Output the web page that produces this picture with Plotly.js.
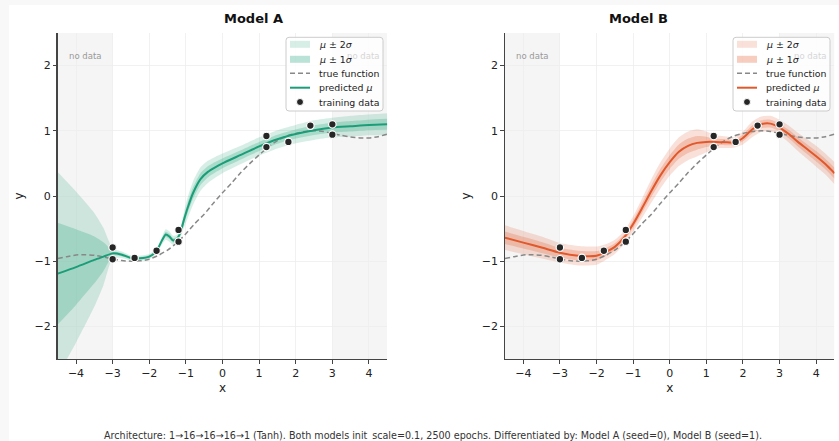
<!DOCTYPE html>
<html>
<head>
<meta charset="utf-8">
<script src="https://cdn.plot.ly/plotly-3.0.1.min.js"></script>
<style>
  html, body { margin: 0; padding: 0; background: #f8f8f8; }
  #chart { position: absolute; left: 9px; top: 5px; width: 830px; height: 436px; background: #ffffff; }
</style>
</head>
<body>
<div id="chart"></div>
<script>
// ---------- data ----------
const trainX = [-3, -3, -2.4, -1.8, -1.2, -1.2, 1.2, 1.2, 1.8, 2.4, 3.0, 3.0];
const trainY = [-0.79, -0.97, -0.95, -0.84, -0.52, -0.70, 0.92, 0.75, 0.83, 1.08, 1.10, 0.94];

const trueX = [-4.5,-4.25,-4.0,-3.75,-3.5,-3.25,-3.0,-2.75,-2.5,-2.25,-2.0,-1.75,-1.5,-1.25,-1.0,-0.75,-0.5,-0.25,0,0.25,0.5,0.75,1.0,1.25,1.5,1.75,2.0,2.25,2.5,2.75,3.0,3.25,3.5,3.75,4.0,4.25,4.5];
const trueY = [-0.96,-0.93,-0.905,-0.90,-0.91,-0.935,-0.965,-0.99,-1.0,-0.995,-0.97,-0.91,-0.83,-0.72,-0.58,-0.42,-0.28,-0.11,0.05,0.20,0.36,0.50,0.63,0.75,0.85,0.92,0.96,0.99,1.0,0.99,0.96,0.93,0.905,0.89,0.89,0.91,0.95];

const xA = [-4.5,-4.0,-3.5,-3.25,-3.0,-2.75,-2.5,-2.25,-2.0,-1.8,-1.65,-1.55,-1.45,-1.35,-1.25,-1.15,-1.05,-0.95,-0.8,-0.6,-0.4,-0.2,0,0.5,1.0,1.5,2.0,2.5,3.0,3.5,4.0,4.5];
const meanA = [-1.19,-1.09,-0.98,-0.93,-0.88,-0.90,-0.95,-0.955,-0.93,-0.84,-0.68,-0.59,-0.62,-0.68,-0.66,-0.56,-0.36,-0.18,0.05,0.26,0.37,0.44,0.50,0.63,0.76,0.87,0.95,1.01,1.05,1.07,1.09,1.10];
const sigmaA = [0.78,0.58,0.36,0.22,0.04,0.025,0.02,0.02,0.02,0.02,0.03,0.04,0.04,0.035,0.03,0.04,0.06,0.08,0.09,0.09,0.085,0.08,0.075,0.07,0.07,0.07,0.07,0.075,0.075,0.08,0.08,0.085];

const xB = [-4.5,-4.0,-3.5,-3.0,-2.5,-2.0,-1.75,-1.5,-1.25,-1.0,-0.75,-0.5,-0.25,0,0.25,0.5,0.75,1.0,1.25,1.5,1.75,2.0,2.25,2.5,2.75,3.0,3.25,3.5,3.75,4.0,4.25,4.5];
const meanB = [-0.64,-0.715,-0.79,-0.87,-0.915,-0.915,-0.86,-0.78,-0.64,-0.43,-0.18,0.08,0.32,0.52,0.68,0.77,0.815,0.83,0.83,0.825,0.82,0.89,1.02,1.10,1.11,1.05,0.95,0.83,0.72,0.61,0.49,0.35];
const sigmaB = [0.095,0.09,0.085,0.075,0.075,0.07,0.06,0.055,0.05,0.06,0.075,0.09,0.10,0.105,0.11,0.11,0.105,0.08,0.05,0.045,0.04,0.05,0.06,0.06,0.06,0.06,0.065,0.07,0.075,0.08,0.08,0.085];

const noDataX = [-3.75, 3.83];
const tickVals = [-4,-3,-2,-1,0,1,2,3,4];
const yTickVals = [-2,-1,0,1,2];
const modelTitles = ["Model A", "Model B"];
const legendLabels = ["<i>μ</i> ± 2<i>σ</i>", "<i>μ</i> ± 1<i>σ</i>", "true function", "predicted <i>μ</i>", "training data"];
const caption = "Architecture: 1→16→16→16→1 (Tanh). Both models init_scale=0.1, 2500 epochs. Differentiated by: Model A (seed=0), Model B (seed=1).";

// ---------- styles ----------
const FONT = "DejaVu Sans, sans-serif";
const W = 830, H = 436, ML = 40, MR = 0, MT = 28, MB = 82;
const PW = W - ML - MR, PH = H - MT - MB;
const px = dx => (dx - ML) / PW;          // div px -> paper x
const py = dy => 1 - (dy - MT) / PH;      // div px -> paper y
const models = [
  { x: xA, m: meanA, s: sigmaA, color: "#1b9e77", rgb: "27,158,119", xa: "x", ya: "y", dom: [0.0110, 0.4282], legendLeft: 277 },
  { x: xB, m: meanB, s: sigmaB, color: "#e0582b", rgb: "224,88,43", xa: "x2", ya: "y2", dom: [0.5772, 0.9943], legendLeft: 724 }
];
const alpha2 = 0.18, alpha1 = 0.24;
const trueDash = "5px,3px";

function modelTraces(md) {
  const lo2 = md.m.map((v, i) => v - 2 * md.s[i]), hi2 = md.m.map((v, i) => v + 2 * md.s[i]);
  const lo1 = md.m.map((v, i) => v - md.s[i]), hi1 = md.m.map((v, i) => v + md.s[i]);
  const c = { xaxis: md.xa, yaxis: md.ya, hoverinfo: "skip", showlegend: false };
  const ln = { width: 0, shape: "spline", smoothing: 0.6 };
  return [
    Object.assign({ x: md.x, y: lo2, mode: "lines", line: ln }, c),
    Object.assign({ x: md.x, y: hi2, mode: "lines", fill: "tonexty", fillcolor: `rgba(${md.rgb},${alpha2})`, line: ln }, c),
    Object.assign({ x: md.x, y: lo1, mode: "lines", line: ln }, c),
    Object.assign({ x: md.x, y: hi1, mode: "lines", fill: "tonexty", fillcolor: `rgba(${md.rgb},${alpha1})`, line: ln }, c),
    Object.assign({ x: trueX, y: trueY, mode: "lines", line: { color: "#888888", width: 1.5, dash: trueDash, shape: "spline", smoothing: 0.6 } }, c),
    Object.assign({ x: md.x, y: md.m, mode: "lines", line: { color: md.color, width: 2, shape: "spline", smoothing: 0.6 } }, c),
    Object.assign({ x: trainX, y: trainY, mode: "markers", marker: { color: "#262626", size: 7.5, line: { color: "#ffffff", width: 1.2 } } }, c)
  ];
}
const data = [].concat(modelTraces(models[0]), modelTraces(models[1]));

function xAxis(domain, anchor) {
  return {
    domain: domain, anchor: anchor, range: [-4.5, 4.5], tickvals: tickVals,
    showgrid: true, gridcolor: "#eeeeee", gridwidth: 0.8, zeroline: false,
    showline: true, linecolor: "#444444", linewidth: 1.2, mirror: false,
    ticks: "outside", ticklen: 3.5, tickwidth: 1, tickcolor: "#444444",
    tickfont: { family: FONT, size: 11, color: "#222222" },
    title: { text: "x", font: { family: FONT, size: 12, color: "#222222" }, standoff: 4 },
    automargin: false, fixedrange: true
  };
}
function yAxis(anchor) {
  return {
    domain: [0, 1], anchor: anchor, range: [-2.5, 2.5], tickvals: yTickVals,
    showgrid: true, gridcolor: "#eeeeee", gridwidth: 0.8, zeroline: false,
    showline: true, linecolor: "#444444", linewidth: 1.2, mirror: false,
    ticks: "outside", ticklen: 3.5, tickwidth: 1, tickcolor: "#444444",
    tickfont: { family: FONT, size: 11, color: "#222222" },
    title: { text: "y", font: { family: FONT, size: 12, color: "#222222" }, standoff: 8 },
    automargin: false, fixedrange: true
  };
}

const shapes = [];
const annotations = [];

models.forEach((md, k) => {
  // no-data spans
  shapes.push({ type: "rect", xref: md.xa, yref: md.ya + " domain", x0: -4.5, x1: -3, y0: 0, y1: 1, fillcolor: "#f5f5f5", line: { width: 0 }, layer: "below" });
  shapes.push({ type: "rect", xref: md.xa, yref: md.ya + " domain", x0: 3, x1: 4.5, y0: 0, y1: 1, fillcolor: "#f5f5f5", line: { width: 0 }, layer: "below" });
  noDataX.forEach(nx => annotations.push({ xref: md.xa, yref: md.ya, x: nx, y: 2.15, text: "no data", showarrow: false,
    font: { family: FONT, size: 8.5, color: nx > 0 ? "#d6d6d6" : "#999999" } }));
  // title
  annotations.push({ xref: "paper", yref: "paper", x: (md.dom[0] + md.dom[1]) / 2, y: 1, yanchor: "middle", yshift: 15,
    text: "<b>" + modelTitles[k] + "</b>", showarrow: false, font: { family: FONT, size: 13, color: "#111111" } });

  // legend box (rounded)
  const L = md.legendLeft, R = L + 97, T = 32.3, B = 106, r = 3;
  const x0 = px(L), x1 = px(R), y0 = py(B), y1 = py(T), rx = r / PW, ry = r / PH;
  shapes.push({ type: "path", xref: "paper", yref: "paper", layer: "above",
    path: `M ${x0 + rx},${y1} L ${x1 - rx},${y1} Q ${x1},${y1} ${x1},${y1 - ry} L ${x1},${y0 + ry} Q ${x1},${y0} ${x1 - rx},${y0} L ${x0 + rx},${y0} Q ${x0},${y0} ${x0},${y0 + ry} L ${x0},${y1 - ry} Q ${x0},${y1} ${x0 + rx},${y1} Z`,
    fillcolor: "rgba(255,255,255,0.82)", line: { color: "#cccccc", width: 1 } });
  const rows = [39.3, 54.3, 68.3, 82.7, 97];
  const sx0 = L + 4, sx1 = L + 24, tx = L + 31;
  shapes.push({ type: "rect", xref: "paper", yref: "paper", layer: "above", x0: px(sx0), x1: px(sx1), y0: py(rows[0] + 3.5), y1: py(rows[0] - 3.5), fillcolor: `rgba(${md.rgb},${alpha2})`, line: { width: 0 } });
  shapes.push({ type: "rect", xref: "paper", yref: "paper", layer: "above", x0: px(sx0), x1: px(sx1), y0: py(rows[1] + 3.5), y1: py(rows[1] - 3.5), fillcolor: `rgba(${md.rgb},${alpha1 + 0.06})`, line: { width: 0 } });
  shapes.push({ type: "line", xref: "paper", yref: "paper", layer: "above", x0: px(sx0), x1: px(sx1), y0: py(rows[2]), y1: py(rows[2]), line: { color: "#888888", width: 1.5, dash: trueDash } });
  shapes.push({ type: "line", xref: "paper", yref: "paper", layer: "above", x0: px(sx0), x1: px(sx1), y0: py(rows[3]), y1: py(rows[3]), line: { color: md.color, width: 2 } });
  shapes.push({ type: "circle", xref: "paper", yref: "paper", layer: "above", xsizemode: "pixel", ysizemode: "pixel",
    xanchor: px((sx0 + sx1) / 2), yanchor: py(rows[4]), x0: -3.5, x1: 3.5, y0: -3.5, y1: 3.5, fillcolor: "#262626", line: { color: "#ffffff", width: 1 } });
  legendLabels.forEach((lab, i) => annotations.push({ xref: "paper", yref: "paper", x: px(tx), y: py(rows[i]), xanchor: "left", yanchor: "middle",
    text: lab, showarrow: false, font: { family: FONT, size: 9.4, color: "#222222" } }));
});

annotations.push({ xref: "paper", yref: "paper", x: px(424), y: 0, yshift: -77, yanchor: "middle", text: caption, showarrow: false,
  font: { family: FONT, size: 9.6, color: "#333333" } });

const layout = {
  width: W, height: H,
  margin: { l: ML, r: MR, t: MT, b: MB },
  paper_bgcolor: "#ffffff", plot_bgcolor: "#ffffff",
  font: { family: FONT },
  xaxis: xAxis(models[0].dom, "y"), yaxis: yAxis("x"),
  xaxis2: xAxis(models[1].dom, "y2"), yaxis2: yAxis("x2"),
  shapes: shapes, annotations: annotations, showlegend: false
};

Plotly.newPlot("chart", data, layout, { staticPlot: true, displayModeBar: false });
</script>
</body>
</html>
